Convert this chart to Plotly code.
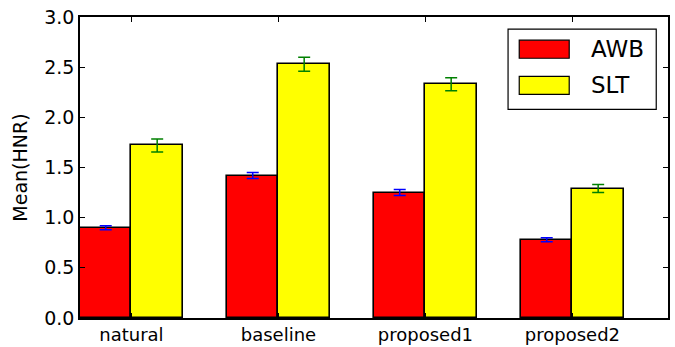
import plotly.graph_objects as go

categories = ["natural", "baseline", "proposed1", "proposed2"]
awb_values = [0.90, 1.42, 1.25, 0.78]
awb_errors = [0.02, 0.03, 0.03, 0.02]
slt_values = [1.72, 2.53, 2.33, 1.29]
slt_errors = [0.065, 0.07, 0.065, 0.04]
y_ticks = [0.0, 0.5, 1.0, 1.5, 2.0, 2.5, 3.0]

bar_width = 0.35
centers = list(range(len(categories)))

fig = go.Figure()
fig.add_trace(go.Bar(
    x=[c - bar_width / 2 for c in centers], y=awb_values, width=bar_width,
    name="AWB", marker=dict(color="#ff0000", line=dict(color="black", width=1.6)),
    error_y=dict(type="data", array=awb_errors, color="#0000ff", thickness=1.5, width=6),
    showlegend=False,
))
fig.add_trace(go.Bar(
    x=[c + bar_width / 2 for c in centers], y=slt_values, width=bar_width,
    name="SLT", marker=dict(color="#ffff00", line=dict(color="black", width=1.6)),
    error_y=dict(type="data", array=slt_errors, color="#008000", thickness=1.5, width=6),
    showlegend=False,
))

# Legend (drawn as box with patches and text)
fig.add_shape(type="rect", xref="paper", yref="paper", x0=0.728, x1=0.980, y0=0.693, y1=0.96,
              line=dict(color="black", width=1.2), fillcolor="white")
for (label, color, yc) in [("AWB", "#ff0000", 0.893), ("SLT", "#ffff00", 0.773)]:
    fig.add_shape(type="rect", xref="paper", yref="paper", x0=0.747, x1=0.832,
                  y0=yc - 0.03, y1=yc + 0.03, line=dict(color="black", width=1.2), fillcolor=color)
    fig.add_annotation(xref="paper", yref="paper", x=0.865, y=yc, text=label, showarrow=False,
                       xanchor="left", yanchor="middle", font=dict(size=23, color="black"))

axis_common = dict(showline=True, linecolor="black", linewidth=1.5, mirror="ticks",
                   ticks="inside", ticklen=5, tickcolor="black", tickwidth=1,
                   showgrid=False, zeroline=False, automargin=False)

fig.update_xaxes(range=[-0.35, 3.65], tickvals=centers, ticktext=categories,
                 tickfont=dict(size=18, color="black"), **axis_common)
fig.update_yaxes(range=[0, 3], tickvals=y_ticks, tickformat=".1f",
                 tickfont=dict(size=19, color="black"),
                 title=dict(text="Mean(HNR)", font=dict(size=19, color="black"), standoff=12),
                 **axis_common)

fig.update_layout(
    width=675, height=347,
    margin=dict(l=80, r=7, t=17, b=29),
    paper_bgcolor="white", plot_bgcolor="white",
    font=dict(family="DejaVu Sans", color="black"),
    barmode="overlay", bargap=0,
)

fig.write_html("out.html", config={"displayModeBar": False},
               post_script="document.body.style.margin='0';")
